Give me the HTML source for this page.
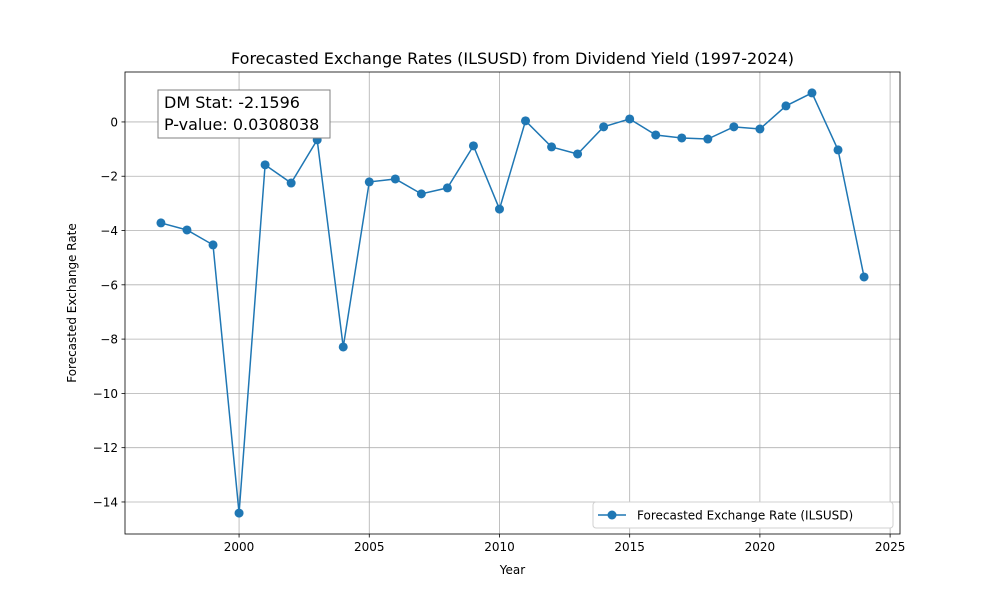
<!DOCTYPE html>
<html><head><meta charset="utf-8"><style>
body{margin:0;background:#fff;font-family:"Liberation Sans","DejaVu Sans",sans-serif}
text{font-family:"DejaVu Sans","Liberation Sans",sans-serif}
</style></head><body>
<svg id="chart" width="1000" height="600" xmlns="http://www.w3.org/2000/svg"></svg>
<script>
const years=[1997,1998,1999,2000,2001,2002,2003,2004,2005,2006,2007,2008,2009,2010,2011,2012,2013,2014,2015,2016,2017,2018,2019,2020,2021,2022,2023,2024];
const rates=[-3.72,-3.98,-4.53,-14.41,-1.58,-2.25,-0.66,-8.29,-2.21,-2.10,-2.65,-2.43,-0.88,-3.21,0.04,-0.92,-1.18,-0.18,0.11,-0.48,-0.59,-0.63,-0.18,-0.26,0.59,1.07,-1.03,-5.71];
const xTicks=[2000,2005,2010,2015,2020,2025];
const yTicks=[0,-2,-4,-6,-8,-10,-12,-14];
const L=125,R=900,T=72,B=534;
const xMin=1995.62,xMax=2025.38,yMin=-15.18,yMax=1.84;
const X=v=>L+(v-xMin)/(xMax-xMin)*(R-L);
const Y=v=>B-(v-yMin)/(yMax-yMin)*(B-T);
const svg=document.getElementById('chart');
const NS='http://www.w3.org/2000/svg';
function mk(tag,attrs,txt){const e=document.createElementNS(NS,tag);for(const k in attrs)e.setAttribute(k,attrs[k]);if(txt!==undefined)e.textContent=txt;svg.appendChild(e);return e;}
xTicks.forEach(t=>{const x=X(t);
let g=mk('line',{x1:x,x2:x,y1:T,y2:B,stroke:'#b0b0b0','stroke-width':0.8});


mk('line',{x1:x,x2:x,y1:B,y2:B+3.5,stroke:'#000','stroke-width':0.8});
let l=mk('text',{x:x,y:B+17,'font-size':12,'text-anchor':'middle'},t);

});
yTicks.forEach(t=>{const y=Y(t);
let g=mk('line',{x1:L,x2:R,y1:y,y2:y,stroke:'#b0b0b0','stroke-width':0.8});


mk('line',{x1:L-3.5,x2:L,y1:y,y2:y,stroke:'#000','stroke-width':0.8});
let l=mk('text',{x:L-7,y:y+4.5,'font-size':12,'text-anchor':'end'},t<0?'\u2212'+(-t):t);

});
const line=mk('polyline',{points:years.map((y,i)=>X(y)+','+Y(rates[i])).join(' '),fill:'none',stroke:'#1f77b4','stroke-width':1.5});


years.forEach((y,i)=>{const c=mk('circle',{cx:X(y),cy:Y(rates[i]),r:4.5,fill:'#1f77b4'});

});
const fr=mk('rect',{x:L,y:T,width:R-L,height:B-T,fill:'none',stroke:'#000','stroke-width':0.8});


let t1=mk('text',{x:512.5,y:64,'font-size':16,'text-anchor':'middle'},'Forecasted Exchange Rates (ILSUSD) from Dividend Yield (1997-2024)');


let xt=mk('text',{x:512.5,y:574,'font-size':12,'text-anchor':'middle'},'Year');


let yt=mk('text',{x:76,y:303,'font-size':12,'text-anchor':'middle',transform:'rotate(-90 76 303)'},'Forecasted Exchange Rate');


let sb=mk('rect',{x:158,y:90,width:172,height:48,fill:'#fff',stroke:'#808080','stroke-width':1});


let s1=mk('text',{x:164,y:108,'font-size':16},'DM Stat: -2.1596');


let s2=mk('text',{x:164,y:130,'font-size':16},'P-value: 0.0308038');


let lb=mk('rect',{x:593,y:502,width:300,height:26,rx:3,fill:'#fff',stroke:'#d0d0d0','stroke-width':1});


mk('line',{x1:598,x2:626,y1:515,y2:515,stroke:'#1f77b4','stroke-width':1.5});
mk('circle',{cx:612,cy:515,r:4.5,fill:'#1f77b4'});
let le=mk('text',{x:637,y:519.5,'font-size':12},'Forecasted Exchange Rate (ILSUSD)');


</script>
</body></html>
